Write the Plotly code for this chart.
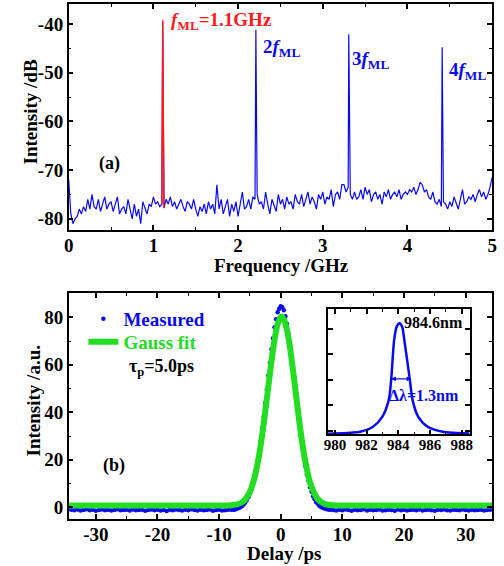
import numpy as np
import plotly.graph_objects as go

W, H = 504, 566
FONT = "Liberation Serif, Times New Roman, serif"
BLUE = "#0a0aee"
GREEN = "#22dd22"
RED = "#ff1a1a"

# ---------------- panel (a): RF spectrum ----------------
# noise floor, sampled every 0.025 GHz from 0 to 5 GHz
noise_db = [
    -72, -79, -81, -80, -79.5, -78, -79, -77.5, -78.5, -76,
    -78, -75, -77.5, -78, -76, -78.5, -77, -75.5, -78, -77,
    -76.5, -78.5, -77, -75.5, -79, -78, -77.5, -79, -76, -78,
    -80, -77, -79.5, -78, -81, -76.5, -78, -79, -77, -77.5,
    -75.5, -77, -76.5, -77.5, -77, -77.8, -76, -77, -75.5, -77.5,
    -76.5, -78, -77, -76, -77.5, -78.5, -76.5, -77, -78, -76,
    -78, -79.5, -77.5, -78.5, -77, -79, -76.5, -78, -77, -79,
    -73, -78, -76, -79, -77.5, -76, -79.5, -77, -78.5, -76.5,
    -79.5, -77, -74.5, -78, -77.5, -76, -78, -75.5, -76, -75,
    -77, -76.5, -78, -74.5, -77, -79, -76, -77.5, -78.5, -75,
    -77, -76, -78, -75.5, -77, -76.5, -78, -75, -76.5, -77,
    -75, -77.5, -76, -74.5, -77, -75.5, -76.5, -78, -75, -76,
    -74.5, -77, -75.5, -76, -74, -77.5, -75, -74.5, -76, -73,
    -73, -74.5, -73.5, -75, -76, -74.5, -76, -75.5, -74, -76,
    -73.5, -75, -74, -76.5, -75, -74.5, -76, -75, -77, -74.5,
    -75.5, -74, -76, -75, -74.5, -75.5, -74, -76, -75, -74.5,
    -75, -74, -74.5, -73.5, -75, -74, -72.5, -73, -74.5, -74,
    -75.5, -76, -74.5, -76.5, -77, -76, -77.5, -76.5, -77, -78,
    -76.5, -77.5, -75.5, -77, -78, -76, -74, -77, -76.5, -75.5,
    -76, -75, -76.5, -75, -74, -75.5, -74.5, -76, -75, -73.5,
    -71.5,
]
noise_step = 0.025
# mode-locking harmonics
peak_freq = [1.11, 2.21, 3.307, 4.41]
peak_db = [-39.3, -41.2, -42.1, -44.8]

# tick labels (hyphen minus as in the original)
a_xticks = [0, 1, 2, 3, 4, 5]
a_yticks = [-80, -70, -60, -50, -40]
b_xticks = [-30, -20, -10, 0, 10, 20, 30]
b_yticks = [0, 20, 40, 60, 80]
inset_xticks = [980, 982, 984, 986, 988]

freq = [round(i * noise_step, 4) for i in range(len(noise_db))] + peak_freq
vals = noise_db + peak_db
order = np.argsort(freq, kind="stable")
freq = [freq[i] for i in order]
vals = [vals[i] for i in order]
red_idx = [i for i, f in enumerate(freq) if 1.095 <= f <= 1.13]
red_f = [freq[i] for i in red_idx]
red_v = [vals[i] for i in red_idx]

# ---------------- panel (b): autocorrelation ----------------
meas_left_step = 0.5
meas_left = [-1.0, -1.2, -0.9, -1.3, -1.1, -0.8, -1.2, -1.0, -1.4, -1.1, -0.9, -1.2, -1.0,
             -1.3, -1.1, -0.8, -1.2, -1.1, -1.0, -1.3, -0.9, -1.2, -1.1, -1.0, -1.4, -1.1,
             -0.9, -1.2, -1.0, -1.3, -1.1, -1.5, -1.0, -1.2, -0.9, -1.1, -1.3, -1.0, -1.2,
             -0.8, -1.1, -1.3, -1.0, -1.2, -1.1, -0.9, -1.4, -1.1, -1.0, -1.3, -1.2, -1.0]
# -8 ps ... +8 ps every 0.25 ps
meas_center = [-1.0, -0.9, -1.0, -0.7, -0.5, -0.2, 0.1, 0.6, 1.2, 2.0, 3.1, 4.2, 5.8,
               7.6, 10.1, 12.6, 15.9, 19.4, 23.7, 28.0, 33.2, 38.3, 44.0, 49.6, 55.5, 60.9,
               66.5, 71.2, 75.8, 79.2, 82.1, 83.6, 84.6, 84.2, 82.9, 80.4, 77.3, 73.1, 68.5,
               63.2, 57.8, 51.9, 46.3, 40.5, 35.3, 30.0, 25.4, 21.0, 17.3, 13.8, 11.1, 8.5,
               6.6, 4.7, 3.4, 2.2, 1.5, 0.7, 0.3, -0.1, -0.4, -0.6, -0.8, -0.9, -1.0]
meas_right = [-1.1, -1.3, -1.0, -1.2, -0.9, -1.1, -1.4, -1.0, -1.2, -1.1, -0.8, -1.3, -1.0,
              -1.2, -1.1, -0.9, -1.3, -1.2, -1.0, -1.1, -1.4, -0.9, -1.2, -1.0, -1.3, -1.1,
              -1.0, -1.2, -0.9, -1.3, -1.1, -1.0, -1.2, -1.4, -1.0, -1.1, -0.9, -1.2, -1.3,
              -1.0, -1.1, -1.2, -0.9, -1.1, -1.3, -1.0, -1.2, -1.1, -1.0, -1.3, -1.1, -1.0]
meas_x = ([-34.0 + meas_left_step * i for i in range(len(meas_left))] +
          [-8.0 + 0.25 * i for i in range(len(meas_center))] +
          [8.5 + meas_left_step * i for i in range(len(meas_right))])
meas_y = meas_left + meas_center + meas_right

fit_x = [-34.5, -10, -9, -8, -7, -6, -5, -4.5, -4, -3.5, -3, -2.5, -2, -1.5, -1, -0.5, 0, 0.15,
         0.5, 1, 1.5, 2, 2.5, 3, 3.5, 4, 4.5, 5, 6, 7, 8, 9, 10, 34.5]
fit_y = [0.8, 0.8, 0.82, 0.91, 1.31, 2.7, 6.6, 10.2, 15.3, 22.1, 30.6, 40.5, 51.1, 61.5, 70.5,
         77.1, 80.1, 80.3, 79.3, 74.8, 67.2, 57.5, 46.9, 36.4, 27.0, 19.2, 13.0, 8.6, 3.5,
         1.57, 0.98, 0.83, 0.8, 0.8]

# inset: optical spectrum (normalised)
spec_x = [979.5, 980.0, 981.0, 981.6, 982.4, 983.0, 983.4, 983.55, 983.74, 983.9, 984.07,
          984.24, 984.38, 984.73, 984.9, 985.25, 985.86, 986.8, 987.5, 988.5]
spec_y = [0.006, 0.008, 0.015, 0.023, 0.068, 0.16, 0.31, 0.49, 0.85, 0.97, 1.0, 0.97, 0.85,
          0.49, 0.31, 0.16, 0.068, 0.023, 0.013, 0.008]
fwhm_left, fwhm_right, half_level = 983.45, 984.83, 0.5


def px_x(p):
    return p / W


def px_y(p):
    return 1 - p / H


def labels(ticks):
    return [str(t) for t in ticks]


fig = go.Figure()
fig.add_trace(go.Scatter(x=freq, y=vals, mode="lines", line=dict(color=BLUE, width=1.2),
                         xaxis="x", yaxis="y", showlegend=False))
fig.add_trace(go.Scatter(x=red_f, y=red_v, mode="lines", line=dict(color=RED, width=1.4),
                         xaxis="x", yaxis="y", showlegend=False))
fig.add_trace(go.Scatter(x=meas_x, y=meas_y, mode="markers",
                         marker=dict(color=BLUE, size=4.5),
                         name='<span style="color:#0a0aee">Measured</span>',
                         xaxis="x2", yaxis="y2", legend="legend"))
fig.add_trace(go.Scatter(x=fit_x, y=fit_y, mode="lines", line=dict(color=GREEN, width=6, shape="spline"),
                         name='<span style="color:#22dd22">Gauss fit</span>',
                         xaxis="x2", yaxis="y2", legend="legend2"))
fig.add_trace(go.Scatter(x=spec_x, y=spec_y, mode="lines",
                         line=dict(color=BLUE, width=2.5, shape="spline", smoothing=0.8),
                         xaxis="x3", yaxis="y3", showlegend=False))

axis_common = dict(showline=True, linecolor="black", linewidth=1.5, mirror="ticks",
                   ticks="inside", ticklen=5, tickwidth=1.5, tickcolor="black",
                   showgrid=False, zeroline=False,
                   tickfont=dict(family=FONT, size=19, color="black", weight="bold"))
minor = dict(ticks="inside", ticklen=3, tickwidth=1.2, tickcolor="black", showgrid=False)

legend_common = dict(xanchor="left", yanchor="middle", bgcolor="rgba(0,0,0,0)",
                     font=dict(family=FONT, size=19, weight="bold"), itemwidth=30)

xdom = [px_x(65), px_x(497)]
fig.update_layout(
    width=W, height=H, margin=dict(l=0, r=0, t=0, b=0),
    paper_bgcolor="white", plot_bgcolor="white",
    font=dict(family=FONT, size=19, color="black", weight="bold"),
    xaxis=dict(domain=xdom, range=[0, 5], tickvals=a_xticks, ticktext=labels(a_xticks),
               anchor="y", ticklabelstandoff=-3,
               minor=dict(dtick=0.5, **minor), **axis_common),
    yaxis=dict(domain=[px_y(230), px_y(4)], range=[-82.3, -35.9], tickvals=a_yticks,
               ticktext=labels(a_yticks), anchor="x",
               minor=dict(dtick=5, **minor), **axis_common),
    xaxis2=dict(domain=xdom, range=[-34.4, 34.3], tickvals=b_xticks, ticktext=labels(b_xticks),
                anchor="y2", ticklabelstandoff=-3,
                minor=dict(dtick=5, **minor), **axis_common),
    yaxis2=dict(domain=[px_y(519), px_y(293)], range=[-4.9, 90.2], tickvals=b_yticks,
                ticktext=labels(b_yticks), anchor="x2",
                minor=dict(dtick=10, **minor), **axis_common),
    xaxis3=dict(domain=[px_x(329.3), px_x(474)], range=[979.55, 988.5], tickvals=inset_xticks,
                ticktext=labels(inset_xticks), anchor="y3",
                minor=dict(dtick=1, **minor), ticklabelstandoff=-4,
                **{**axis_common, "tickfont": dict(family=FONT, size=15, color="black", weight="bold")}),
    yaxis3=dict(domain=[px_y(434.3), px_y(309.3)], range=[0, 1.126], tick0=0.03, dtick=0.23,
                anchor="x3", showticklabels=False, **axis_common),
    legend=dict(x=px_x(80), y=px_y(319), **legend_common),
    legend2=dict(x=px_x(80), y=px_y(342), **legend_common),
)


def ann(text, x, y, size=19, color="black", xanchor="center", yanchor="middle", angle=0):
    fig.add_annotation(text=text, x=px_x(x), y=px_y(y), xref="paper", yref="paper",
                       showarrow=False, xanchor=xanchor, yanchor=yanchor, textangle=angle,
                       font=dict(family=FONT, size=size, color=color, weight="bold"))


# axis titles
ann("Frequency /GHz", 282, 265)
ann("Intensity /dB", 27, 112, angle=-90)
ann("Delay /ps", 285, 553)
ann("Intensity /a.u.", 29, 401, angle=-90)
# panel labels
ann("(a)", 107, 163, size=18)
ann("(b)", 111, 465, size=18)
# harmonic labels
ann("<i>f</i><sub>ML</sub>=1.1GHz", 167, 21, color=RED, xanchor="left")
ann("2<i>f</i><sub>ML</sub>", 261, 48, color=BLUE, xanchor="left")
ann("3<i>f</i><sub>ML</sub>", 352, 60, color=BLUE, xanchor="left")
ann("4<i>f</i><sub>ML</sub>", 451, 71, color=BLUE, xanchor="left")
# pulse width
ann("τ<sub>p</sub>=5.0ps", 124, 367, size=18, xanchor="left")
# inset texts
fig.add_annotation(text="984.6nm", x=986.2, y=1.005, xref="x3", yref="y3", showarrow=False,
                   font=dict(family=FONT, size=16, color="black", weight="bold"))
fig.add_annotation(text="Δλ=1.3nm", x=985.6, y=0.354, xref="x3", yref="y3", showarrow=False,
                   font=dict(family=FONT, size=16, color=BLUE, weight="bold"))
fig.add_annotation(x=fwhm_right, y=half_level, ax=fwhm_left, ay=half_level,
                   xref="x3", yref="y3", axref="x3", ayref="y3", text="",
                   showarrow=True, arrowhead=2, arrowside="end+start", arrowsize=0.8,
                   arrowwidth=1.2, arrowcolor=BLUE)

fig.write_html("out.html", config={"displayModeBar": False},
               post_script="document.body.style.margin='0';document.body.style.padding='0';")
